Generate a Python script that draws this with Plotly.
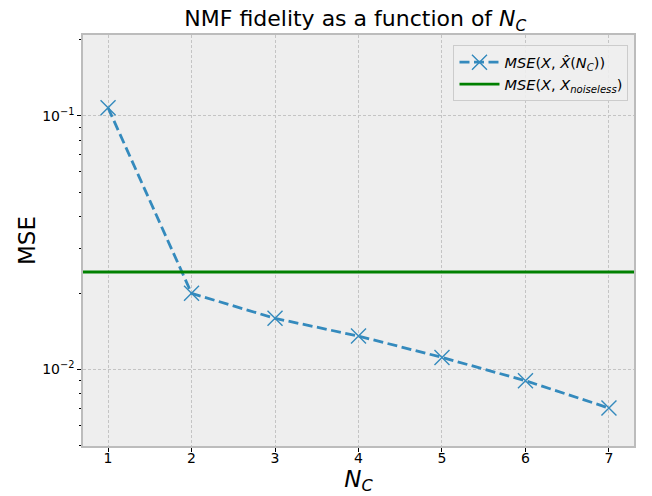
import plotly.graph_objects as go

n_components = [1, 2, 3, 4, 5, 6, 7]
mse_reconstruction = [0.1075, 0.01994, 0.01589, 0.01353, 0.01115, 0.00902, 0.00704]
mse_noiseless = 0.0242
y_tickvals = [0.01, 0.1]
y_ticktext = ["10<sup>−2</sup>", "10<sup>−1</sup>"]

blue = "#348ABD"
green = "#008000"
font_family = "DejaVu Sans"

fig = go.Figure()
fig.add_trace(go.Scatter(
    x=n_components, y=mse_reconstruction, mode="lines+markers",
    line=dict(color=blue, width=2.8, dash="10px,4.5px"),
    marker=dict(symbol="x-thin-open", size=15, line=dict(color=blue, width=1.4)),
    name="<i>MSE</i>(<i>X</i>, <i>X̂</i>(<i>N</i><sub><i>C</i></sub>))",
))
fig.add_trace(go.Scatter(
    x=[0.7, 7.3], y=[mse_noiseless, mse_noiseless], mode="lines",
    line=dict(color=green, width=2.8),
    name="<i>MSE</i>(<i>X</i>, <i>X</i><sub><i>noiseless</i></sub>)",
))

axis_common = dict(
    showline=True, linecolor="#bcbcbc", linewidth=1.5, mirror=True,
    showgrid=True, gridcolor="#c4c4c4", griddash="3px,2px", gridwidth=0.8,
    ticks="outside", tickcolor="black", ticklen=4, tickwidth=1,
    tickfont=dict(family=font_family, size=14, color="black"),
    zeroline=False, automargin=False,
)

fig.update_xaxes(
    range=[0.7, 7.3], tickvals=n_components, ticklabelstandoff=-6,
    title=dict(text="<i>N</i><sub><i>C</i></sub>", font=dict(family=font_family, size=23, color="black"), standoff=2),
    **axis_common,
)
fig.update_yaxes(
    type="log", range=[-2.302, -0.682],
    tickvals=y_tickvals, ticktext=y_ticktext,
    minor=dict(ticks="outside", ticklen=2.5, tickcolor="black", dtick="D1", showgrid=False),
    title=dict(text="MSE", font=dict(family=font_family, size=23, color="black"), standoff=0),
    **axis_common,
)

fig.update_layout(
    width=652, height=496,
    margin=dict(l=83, r=18, t=35, b=50),
    paper_bgcolor="white", plot_bgcolor="#eeeeee",
    font=dict(family=font_family, color="black"),
    title=dict(text="NMF fidelity as a function of <i>N</i><sub><i>C</i></sub>",
               x=0.545, xanchor="center", y=0.978, yanchor="top",
               font=dict(family=font_family, size=22, color="black")),
    legend=dict(x=0.99, y=0.975, xanchor="right", yanchor="top",
                bgcolor="rgba(238,238,238,0.9)", bordercolor="#cccccc", borderwidth=1,
                itemwidth=40,
                font=dict(family=font_family, size=14.5, color="black")),
    showlegend=True,
)

fig.write_html("out.html", config={"displayModeBar": False},
               post_script="document.body.style.margin='0';document.body.style.padding='0';")
